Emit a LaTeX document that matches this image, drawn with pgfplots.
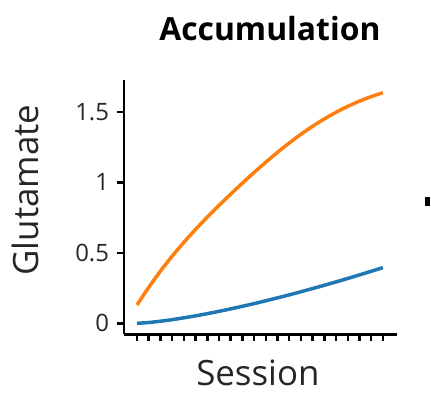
\documentclass[border=0pt]{standalone}
\usepackage{fontspec}
\setmainfont{Open Sans}
\usepackage{pgfplots}
\pgfplotsset{compat=1.18}
\definecolor{mplblue}{HTML}{1F77B4}
\definecolor{mplorange}{HTML}{FF7F0E}
\begin{document}
\begin{tikzpicture}[x=1bp,y=1bp]
\path[use as bounding box] (0,0) rectangle (431,402);
\begin{axis}[
  at={(124bp,67.7bp)}, anchor=south west,
  scale only axis, width=272.7bp, height=254.3bp,
  axis lines=left, axis line style={-, line width=2.5bp},
  xmin=-0.11, xmax=23.18, ymin=-0.078, ymax=1.726,
  xtick={1,...,22}, xticklabels={},
  ytick={0,0.5,1,1.5}, yticklabels={0,0.5,1,1.5},
  /pgf/number format/assume math mode=true,
  tick style={line width=2.5bp, black},
  major tick length=6.5bp,
  tick align=outside,
  ticklabel style={font=\fontsize{24}{28}\selectfont, text=black!85},
  yticklabel style={xshift=-5bp},
  xlabel={Session}, ylabel={Glutamate},
  xlabel style={at={(axis description cs:0.491,-0.152)}, anchor=center, font=\fontsize{35}{40}\selectfont, text=black!85},
  ylabel style={at={(axis description cs:-0.360,0.567)}, anchor=center, font=\fontsize{35}{40}\selectfont, text=black!85},
  title={Accumulation},
  title style={at={(axis description cs:0.535,1.177)}, anchor=center, font=\fontsize{32}{38}\selectfont\bfseries},
]
\addplot[mplorange, line width=3.5bp, smooth] coordinates {
(1,0.13)(2,0.255)(3,0.37)(4,0.476)(5,0.574)(6,0.666)(7,0.753)(8,0.836)(9,0.916)(10,0.994)(11,1.07)
(12,1.143)(13,1.213)(14,1.279)(15,1.341)(16,1.398)(17,1.45)(18,1.497)(19,1.539)(20,1.576)(21,1.608)(22,1.636)};
\addplot[mplblue, line width=3.5bp, smooth] coordinates {
(1,0)(2,0.0056)(3,0.0147)(4,0.0259)(5,0.0388)(6,0.053)(7,0.0684)(8,0.0849)(9,0.1023)(10,0.1207)(11,0.1398)
(12,0.1598)(13,0.1805)(14,0.2018)(15,0.2239)(16,0.2466)(17,0.270)(18,0.2938)(19,0.3183)(20,0.3434)(21,0.3689)(22,0.395)};
\end{axis}
\fill[black] (425,196) rectangle (430,205);
\end{tikzpicture}
\end{document}
